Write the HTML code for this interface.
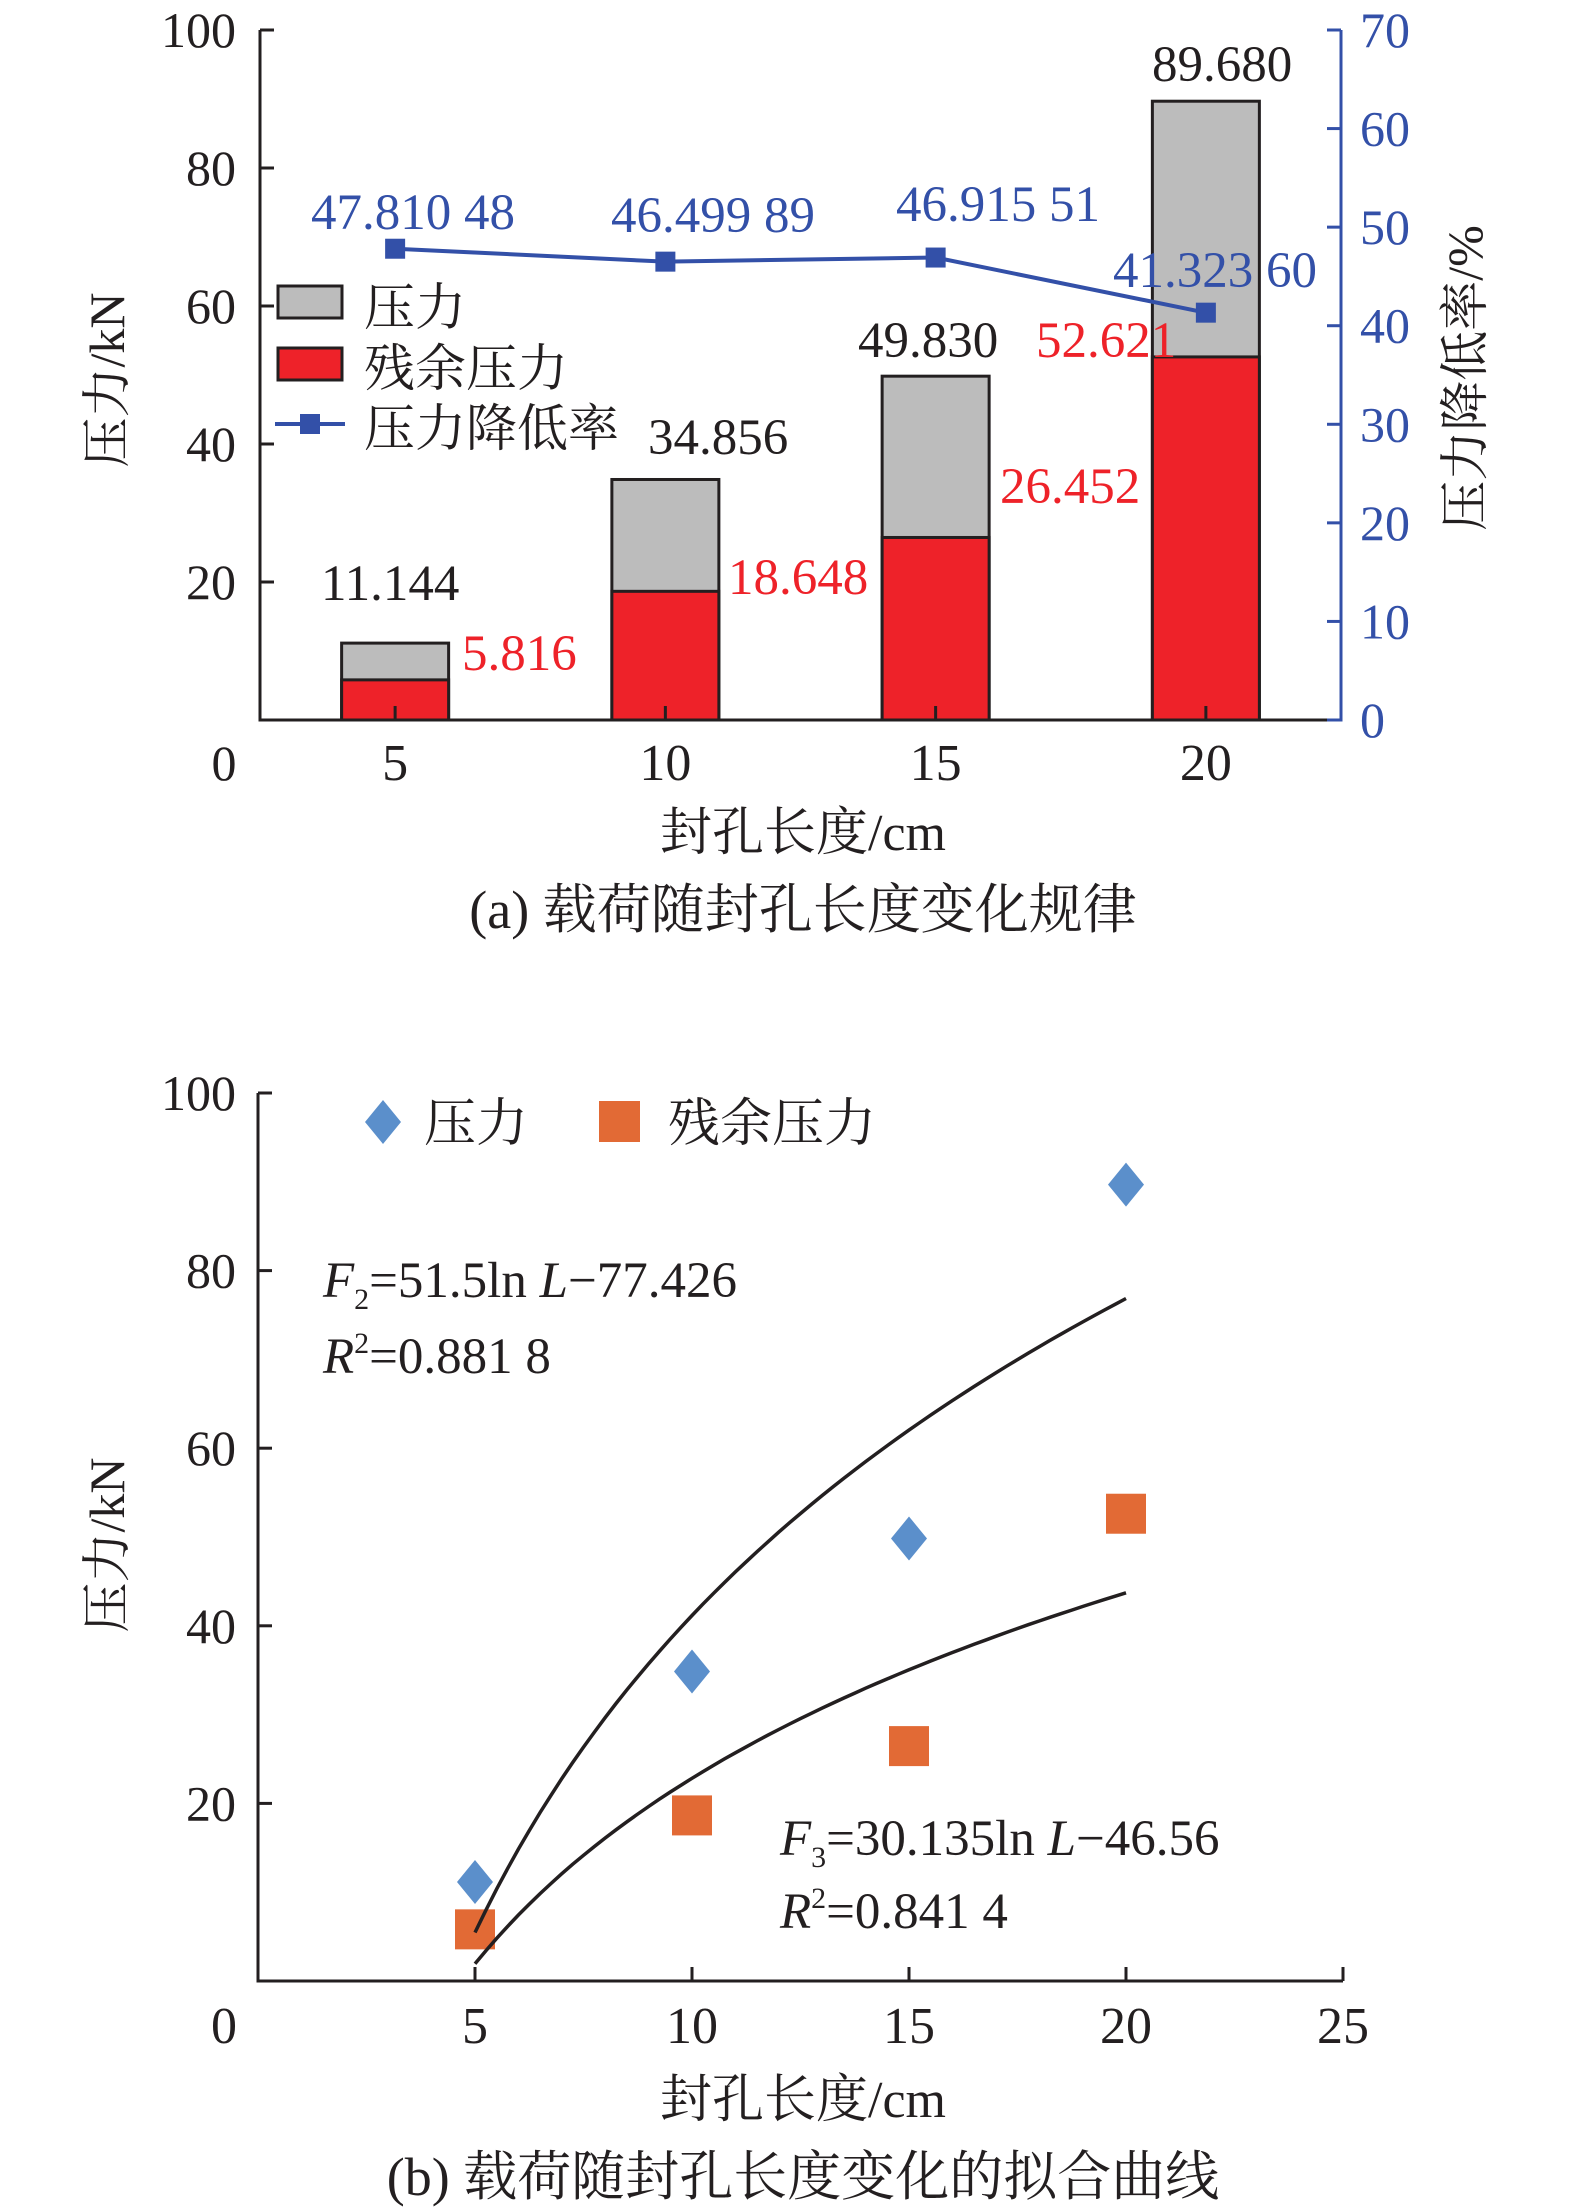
<!DOCTYPE html>
<html><head><meta charset="utf-8">
<style>
html,body{margin:0;padding:0;background:#fff;}
svg{display:block;}
text{font-family:"Liberation Serif","Noto Serif CJK SC","Noto Sans CJK SC",serif;}
</style></head>
<body>
<svg id="chart" width="1575" height="2207" viewBox="0 0 1575 2207" xmlns="http://www.w3.org/2000/svg">
<g id="ga"></g>
<g id="gb"></g>
</svg>
<script>
// ---- Chart A data ----
const catsA = [5, 10, 15, 20];
const pressure = [11.144, 34.856, 49.830, 89.680];
const residual = [5.816, 18.648, 26.452, 52.621];
const rate = [47.81048, 46.49989, 46.91551, 41.3236];
const pressureLabels = ["11.144", "34.856", "49.830", "89.680"];
const residualLabels = ["5.816", "18.648", "26.452", "52.621"];
const rateLabels = ["47.810 48", "46.499 89", "46.915 51", "41.323 60"];
const leftTicksA = [0, 20, 40, 60, 80, 100];
const rightTicksA = [0, 10, 20, 30, 40, 50, 60, 70];
// ---- Chart B data ----
const xsB = [5, 10, 15, 20];
const pressB = [11.144, 34.856, 49.830, 89.680];
const residB = [5.816, 18.648, 26.452, 52.621];
const fit2 = [51.5, -77.426];
const fit3 = [30.135, -46.56];
const xTicksB = [0, 5, 10, 15, 20, 25];
const yTicksB = [20, 40, 60, 80, 100];

const NS = "http://www.w3.org/2000/svg";
function mk(parent, tag, attrs, txt) {
  const e = document.createElementNS(NS, tag);
  for (const k in attrs) e.setAttribute(k, attrs[k]);
  if (txt !== undefined) e.textContent = txt;
  parent.appendChild(e);
  return e;
}
const BLUE = "#3350a8", RED = "#ee2229", GRAY = "#bcbcbc", DARK = "#231f20";

// ===== Chart A =====
const ga = document.getElementById("ga");
const aL = 260, aR = 1341, aB = 720, aT = 30;
const yA = v => aB - v / 100 * (aB - aT);
const yR = v => aB - v / 70 * (aB - aT);
const slot = (aR - aL) / catsA.length;
const xA = i => aL + slot * (i + 0.5);
const bw = 107;

for (let i = 0; i < catsA.length; i++) {
  let r = mk(ga, "rect", {x: xA(i) - bw/2, y: yA(pressure[i]), width: bw, height: yA(0) - yA(pressure[i]), fill: GRAY, stroke: DARK, "stroke-width": 3});
  
  
  r = mk(ga, "rect", {x: xA(i) - bw/2, y: yA(residual[i]), width: bw, height: yA(0) - yA(residual[i]), fill: RED, stroke: DARK, "stroke-width": 3});
  
  
}
let ax = mk(ga, "path", {d: `M${aL},${aT} V${aB} H${aR}`, fill: "none", stroke: DARK, "stroke-width": 3});


ax = mk(ga, "path", {d: `M${aR},${aT} V${aB} H${aR-14}`, fill: "none", stroke: BLUE, "stroke-width": 3});


leftTicksA.forEach(v => {
  if (v > 0) mk(ga, "line", {x1: aL, x2: aL + 14, y1: yA(v), y2: yA(v), stroke: DARK, "stroke-width": 3});
  const t = mk(ga, "text", {x: 236, y: yA(v) + 17, "font-size": 50, "text-anchor": "end", fill: DARK}, v === 0 ? "" : String(v));
  
  
});
let z = mk(ga, "text", {x: 224, y: 780, "font-size": 50, "text-anchor": "middle", fill: DARK}, "0");


rightTicksA.forEach(v => {
  mk(ga, "line", {x1: aR - 14, x2: aR, y1: yR(v), y2: yR(v), stroke: BLUE, "stroke-width": 3});
  const t = mk(ga, "text", {x: 1360, y: yR(v) + 17, "font-size": 50, fill: BLUE}, String(v));
  
  
});
catsA.forEach((c, i) => {
  mk(ga, "line", {x1: xA(i), x2: xA(i), y1: aB, y2: aB - 14, stroke: DARK, "stroke-width": 3});
  const t = mk(ga, "text", {x: xA(i), y: 780, "font-size": 52, "text-anchor": "middle", fill: DARK}, String(c));
  
  
});
let pts = rate.map((v, i) => `${xA(i)},${yR(v)}`).join(" ");
let pl = mk(ga, "polyline", {points: pts, fill: "none", stroke: BLUE, "stroke-width": 4});


rate.forEach((v, i) => {
  const m = mk(ga, "rect", {x: xA(i) - 10, y: yR(v) - 10, width: 20, height: 20, fill: BLUE});
  
  
});
const pLabPos = [[321, 600], [648, 454], [858, 357], [1152, 81]];
const rLabPos = [[462, 670], [728, 594], [1000, 503], [1036, 357]];
const bLabPos = [[311, 229], [611, 232], [896, 221], [1113, 287]];
pressureLabels.forEach((s, i) => {
  const t = mk(ga, "text", {x: pLabPos[i][0], y: pLabPos[i][1], "font-size": 51, fill: DARK}, s);
  
  
});
residualLabels.forEach((s, i) => {
  const t = mk(ga, "text", {x: rLabPos[i][0], y: rLabPos[i][1], "font-size": 51, fill: RED}, s);
  
  
});
rateLabels.forEach((s, i) => {
  const t = mk(ga, "text", {x: bLabPos[i][0], y: bLabPos[i][1], "font-size": 51, fill: BLUE}, s);
  
  
});
let lg = mk(ga, "rect", {x: 278, y: 286, width: 64, height: 32, fill: GRAY, stroke: DARK, "stroke-width": 3});


lg = mk(ga, "text", {x: 364, y: 325, "font-size": 51, fill: DARK}, "压力");


lg = mk(ga, "rect", {x: 278, y: 348, width: 64, height: 32, fill: RED, stroke: DARK, "stroke-width": 3});


lg = mk(ga, "text", {x: 364, y: 386, "font-size": 51, fill: DARK}, "残余压力");


lg = mk(ga, "line", {x1: 275, x2: 345, y1: 424, y2: 424, stroke: BLUE, "stroke-width": 4});


mk(ga, "rect", {x: 300, y: 414, width: 20, height: 20, fill: BLUE});
lg = mk(ga, "text", {x: 364, y: 446, "font-size": 51, fill: DARK}, "压力降低率");


let tt = mk(ga, "text", {x: 0, y: 0, "font-size": 50, "text-anchor": "middle", fill: DARK, transform: "translate(124,380) rotate(-90)"}, "压力/kN");


tt = mk(ga, "text", {x: 0, y: 0, "font-size": 50, "text-anchor": "middle", fill: DARK, transform: "translate(1482,378) rotate(-90)"}, "压力降低率/%");


tt = mk(ga, "text", {x: 803, y: 850, "font-size": 52, "text-anchor": "middle", fill: DARK}, "封孔长度/cm");


tt = mk(ga, "text", {x: 803, y: 928, "font-size": 54, "text-anchor": "middle", fill: DARK}, "(a) 载荷随封孔长度变化规律");



// ===== Chart B =====
const gb = document.getElementById("gb");
const bL = 258, bR = 1343, bB = 1981, bT = 1093;
const xB = v => bL + v / 25 * (bR - bL);
const yB = v => bB - v / 100 * (bB - bT);
ax = mk(gb, "path", {d: `M${bL},${bT} V${bB} H${bR}`, fill: "none", stroke: DARK, "stroke-width": 3});


yTicksB.forEach(v => {
  mk(gb, "line", {x1: bL, x2: bL + 14, y1: yB(v), y2: yB(v), stroke: DARK, "stroke-width": 3});
  const t = mk(gb, "text", {x: 236, y: yB(v) + 17, "font-size": 50, "text-anchor": "end", fill: DARK}, String(v));
  
  
});
xTicksB.forEach(v => {
  if (v > 0) mk(gb, "line", {x1: xB(v), x2: xB(v), y1: bB, y2: bB - 14, stroke: DARK, "stroke-width": 3});
  const t = mk(gb, "text", {x: v === 0 ? 224 : xB(v), y: 2043, "font-size": 52, "text-anchor": "middle", fill: DARK}, String(v));
  
  
});
function curve(c, name) {
  let d = "";
  for (let L = 5; L <= 20.0001; L += 0.25) {
    d += (d ? " L" : "M") + xB(L).toFixed(1) + "," + yB(c[0] * Math.log(L) + c[1]).toFixed(1);
  }
  const p = mk(gb, "path", {d: d, fill: "none", stroke: DARK, "stroke-width": 3.5});
  
  
}
residB.forEach((v, i) => {
  const m = mk(gb, "rect", {x: xB(xsB[i]) - 20, y: yB(v) - 20, width: 40, height: 40, fill: "#e26a35"});
  
  
});
pressB.forEach((v, i) => {
  const cx = xB(xsB[i]), cy = yB(v);
  const m = mk(gb, "path", {d: `M${cx},${cy-22} L${cx+18},${cy} L${cx},${cy+22} L${cx-18},${cy} Z`, fill: "#5b8fcb"});
  
  
});
curve(fit2, 'fit-curve-pressure');
curve(fit3, 'fit-curve-residual');
lg = mk(gb, "path", {d: "M383,1100 L401,1122 L383,1144 L365,1122 Z", fill: "#5b8fcb"});


lg = mk(gb, "text", {x: 424, y: 1141, "font-size": 52, fill: DARK}, "压力");


lg = mk(gb, "rect", {x: 599, y: 1101, width: 41, height: 41, fill: "#e26a35"});


lg = mk(gb, "text", {x: 668, y: 1141, "font-size": 52, fill: DARK}, "残余压力");


function eq(x, y, html, name) {
  const t = mk(gb, "text", {x: x, y: y, "font-size": 51, fill: DARK});
  t.innerHTML = html;
  
  
}
eq(323, 1297, '<tspan font-style="italic">F</tspan><tspan font-size="30" dy="12">2</tspan><tspan dy="-12">=51.5ln </tspan><tspan font-style="italic">L</tspan>−77.426', 'equation-f2');
eq(323, 1373, '<tspan font-style="italic">R</tspan><tspan font-size="30" dy="-20">2</tspan><tspan dy="20">=0.881 8</tspan>', 'r2-f2');
eq(780, 1855, '<tspan font-style="italic">F</tspan><tspan font-size="30" dy="12">3</tspan><tspan dy="-12">=30.135ln </tspan><tspan font-style="italic">L</tspan>−46.56', 'equation-f3');
eq(780, 1928, '<tspan font-style="italic">R</tspan><tspan font-size="30" dy="-20">2</tspan><tspan dy="20">=0.841 4</tspan>', 'r2-f3');
tt = mk(gb, "text", {x: 0, y: 0, "font-size": 50, "text-anchor": "middle", fill: DARK, transform: "translate(124,1545) rotate(-90)"}, "压力/kN");


tt = mk(gb, "text", {x: 803, y: 2117, "font-size": 52, "text-anchor": "middle", fill: DARK}, "封孔长度/cm");


tt = mk(gb, "text", {x: 803, y: 2195, "font-size": 54, "text-anchor": "middle", fill: DARK}, "(b) 载荷随封孔长度变化的拟合曲线");


</script>
</body></html>
